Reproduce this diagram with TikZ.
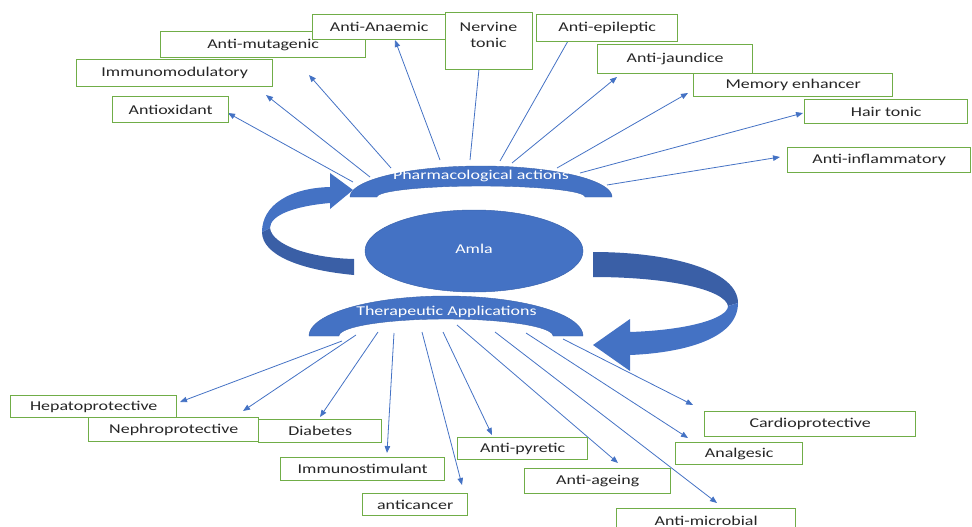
\documentclass[tikz,border=0pt]{standalone}
\usepackage{fontspec}
\setmainfont{Carlito}[FakeStretch=1.33]
\usetikzlibrary{arrows.meta,shapes.geometric}
\definecolor{boxgreen}{HTML}{70AD47}
\definecolor{linkblue}{HTML}{4472C4}
\definecolor{shapeblue}{HTML}{4472C4}
\definecolor{shapedark}{HTML}{3A5FA6}
\definecolor{shapeedge}{HTML}{3B64AE}
\definecolor{txtgray}{HTML}{262626}
\begin{document}
\begin{tikzpicture}[x=1pt,y=-1pt,
  box/.style={draw=boxgreen, line width=1.4pt, fill=white, text=txtgray, inner sep=0pt,
    anchor=north west, font=\fontsize{13.5}{16}\selectfont},
  link/.style={draw=linkblue, line width=0.8pt},
  arrowlink/.style={link, -{Triangle[length=7pt,width=5.5pt]}, color=linkblue},
  shapetext/.style={text=white, font=\fontsize{13.5}{16}\selectfont, inner sep=0pt},
  boxtext/.style={text=txtgray, font=\fontsize{13.5}{16}\selectfont, inner sep=0pt, align=center}]
\useasboundingbox (0,0) rectangle (972,527);
\clip (0,0) rectangle (972,527);

% ---------- connector end points ----------
% top (pharmacological actions)
\coordinate (s1) at (353,182); \coordinate (t1) at (228,113);
\coordinate (s2) at (370,177); \coordinate (t2) at (266,95);
\coordinate (s3) at (391,168); \coordinate (t3) at (309,75);
\coordinate (s4) at (440,160); \coordinate (t4) at (395,40);
\coordinate (s5) at (470,160); \coordinate (t5) at (479,69);
\coordinate (s6) at (500,161); \coordinate (t6) at (568,41);
\coordinate (s7) at (512,163); \coordinate (t7) at (617,77);
\coordinate (s8) at (557,168); \coordinate (t8) at (688,93);
\coordinate (s9) at (580,173); \coordinate (t9) at (803,113);
\coordinate (s10) at (607,185); \coordinate (t10) at (780,157);
% bottom (therapeutic applications)
\coordinate (b1) at (342,341); \coordinate (u1) at (180,402);
\coordinate (b2) at (356,335); \coordinate (u2) at (243,411);
\coordinate (b3) at (378,332); \coordinate (u3) at (320,417);
\coordinate (b4) at (394,333); \coordinate (u4) at (387,453);
\coordinate (b5) at (422,332); \coordinate (u5) at (462,485);
\coordinate (b6) at (443,332); \coordinate (u6) at (492,435);
\coordinate (b7) at (457,325); \coordinate (u7) at (618,463);
\coordinate (b8) at (495,332); \coordinate (u8) at (717,503);
\coordinate (b9) at (526,333); \coordinate (u9) at (688,438);
\coordinate (b10) at (563,339); \coordinate (u10) at (693,405);

% ---------- connectors ----------
\foreach \i in {1,2,3,4,7,8,9,10} { \draw[arrowlink] (s\i) -- (t\i); }
\draw[link] (t5) -- (s5);
\draw[link] (t6) -- (s6);
\foreach \i in {1,...,10} { \draw[arrowlink] (b\i) -- (u\i); }

% ---------- block arcs ----------
\filldraw[fill=shapeblue, draw=shapeedge, line width=0.4pt]
  plot[domain=180:360, samples=61, variable=\t] ({481+131*cos(\t)},{197+31*sin(\t)})
  -- plot[domain=360:180, samples=61, variable=\t] ({481+104*cos(\t)},{197+11*sin(\t)}) -- cycle;
\filldraw[fill=shapeblue, draw=shapeedge, line width=0.4pt]
  plot[domain=180:360, samples=61, variable=\t] ({446+137*cos(\t)},{336+40*sin(\t)})
  -- plot[domain=360:180, samples=61, variable=\t] ({446+107*cos(\t)},{336+17*sin(\t)}) -- cycle;
\node[shapetext] (pharm) at (481,176) {Pharmacological actions};
\node[shapetext] (thera) at (446.5,312) {Therapeutic Applications};

% ---------- Amla ----------
\node[ellipse, fill=shapeblue, draw=shapeedge, line width=0.5pt, minimum width=218pt,
  minimum height=82pt, inner sep=0pt, text=white, font=\fontsize{13.5}{16}\selectfont]
  (amla) at (474,251) {\raisebox{4pt}{Amla}};

% ---------- left curved arrow ----------
\fill[shapedark] (354,275) .. controls (300,270) and (262,255) .. (262,232)
  -- (270,228) .. controls (272,245) and (310,258) .. (354,259) -- cycle;
\fill[shapeblue] (262,232) .. controls (262,205) and (290,188) .. (330,187)
  -- (330,173) -- (353,190) -- (330,209) -- (330,203)
  .. controls (295,206) and (270,215) .. (270,228) -- cycle;

% ---------- right curved arrow ----------
\fill[shapedark] (593,252) .. controls (670,252) and (738,270) .. (738,303)
  -- (728,306) .. controls (725,290) and (670,277) .. (593,277) -- cycle;
\fill[shapeblue] (738,303) .. controls (738,340) and (680,353) .. (630,355)
  -- (630,371) -- (593,345) -- (630,319) -- (630,332)
  .. controls (690,330) and (728,318) .. (728,306) -- cycle;

% ---------- top boxes ----------
\node[box, minimum width=116pt, minimum height=26pt] (antiox) at (112,96) {Antioxidant};
\node[box, minimum width=196pt, minimum height=27pt] (immuno) at (76,59) {Immunomodulatory};
\node[box, minimum width=205pt, minimum height=26pt] (mutag) at (160,31) {Anti-mutagenic};
\node[box, minimum width=133pt, minimum height=25pt] (anaemic) at (312,14) {Anti-Anaemic};
\node[box, minimum width=87pt, minimum height=57pt] (nervine) at (445,12) {};
\node[boxtext] (nervinetxt) at (488.5,35) {Nervine\\tonic};
\node[box, minimum width=141pt, minimum height=27pt] (epilep) at (536,14) {Anti-epileptic};
\node[box, minimum width=155pt, minimum height=29pt] (jaund) at (597,44) {Anti-jaundice};
\node[box, minimum width=199pt, minimum height=23pt] (memory) at (693,73) {Memory enhancer};
\node[box, minimum width=163pt, minimum height=24pt] (hair) at (804,99) {Hair tonic};
\node[box, minimum width=183pt, minimum height=25pt] (inflam) at (787,147) {Anti-inflammatory};

% ---------- bottom boxes ----------
\node[box, minimum width=166pt, minimum height=22pt] (hepato) at (10,395) {Hepatoprotective};
\node[box, minimum width=170pt, minimum height=24pt] (nephro) at (88,417) {Nephroprotective};
\node[box, minimum width=123pt, minimum height=23pt] (diab) at (258,419) {Diabetes};
\node[box, minimum width=164pt, minimum height=23pt] (immst) at (280,457) {Immunostimulant};
\node[box, minimum width=105pt, minimum height=22pt] (cancer) at (362,493) {anticancer};
\node[box, minimum width=130pt, minimum height=22pt] (pyretic) at (457,437) {Anti-pyretic};
\node[box, minimum width=146pt, minimum height=25pt] (ageing) at (524,468) {Anti-ageing};
\node[box, minimum width=179pt, minimum height=24pt] (microb) at (616,508) {Anti-microbial};
\node[box, minimum width=127pt, minimum height=22pt] (analg) at (675,442) {Analgesic};
\node[box, minimum width=211pt, minimum height=25pt] (cardio) at (704,411) {Cardioprotective};
\end{tikzpicture}
\end{document}
